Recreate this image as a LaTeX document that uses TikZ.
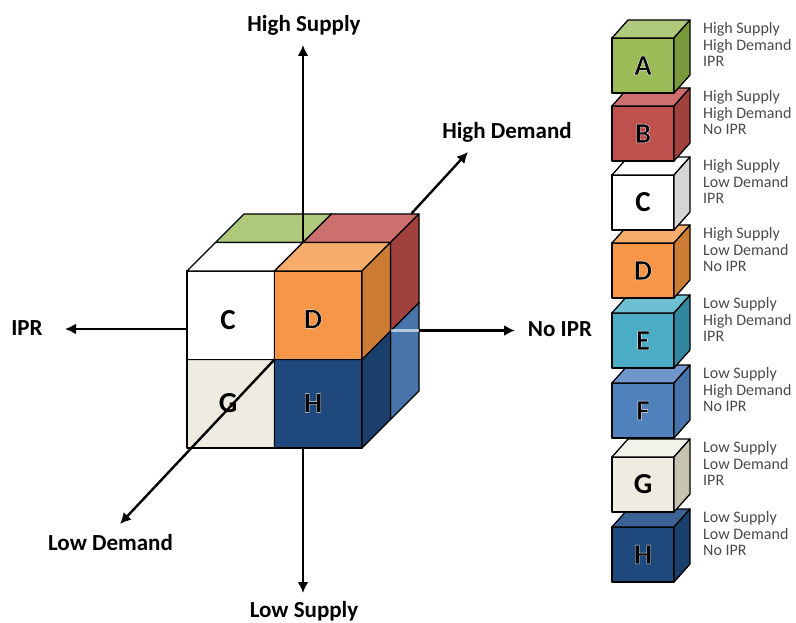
\documentclass[tikz,border=0pt]{standalone}
\usepackage{fontspec}
\setmainfont{Carlito}
\usetikzlibrary{arrows.meta}

\definecolor{greenFront}{HTML}{9BBB59}
\definecolor{greenTop}{HTML}{AEC87C}
\definecolor{greenSide}{HTML}{789A3D}
\definecolor{redFront}{HTML}{C0504D}
\definecolor{redTop}{HTML}{CD6F6D}
\definecolor{redSide}{HTML}{A0413E}
\definecolor{whiteSide}{HTML}{D6D6D6}
\definecolor{orangeFront}{HTML}{F79646}
\definecolor{orangeTop}{HTML}{F9AD6D}
\definecolor{orangeSide}{HTML}{CC7B35}
\definecolor{tealFront}{HTML}{4BACC6}
\definecolor{tealTop}{HTML}{6FBFD3}
\definecolor{tealSide}{HTML}{32869D}
\definecolor{blueFront}{HTML}{4F81BD}
\definecolor{blueTop}{HTML}{7196CB}
\definecolor{blueSide}{HTML}{4774AA}
\definecolor{sandFront}{HTML}{EEECE1}
\definecolor{sandTop}{HTML}{F3F2EA}
\definecolor{sandSide}{HTML}{C6C3B1}
\definecolor{navyFront}{HTML}{1F497D}
\definecolor{navyTop}{HTML}{3D6396}
\definecolor{navySide}{HTML}{1B3F6C}
\definecolor{legendGray}{HTML}{4A4A4A}

% one small cube: front top-left corner, width, height, depth shift, three fills
\newcommand{\cubebox}[9]{%
  \begin{scope}[shift={(#1,#2)}]
    \filldraw[fill=#7, cube edge] (0,0) rectangle (#3,#4);
    \filldraw[fill=#8, cube edge] (0,0) -- (#5,#6) -- ({#3+#5},#6) -- (#3,0) -- cycle;
    \filldraw[fill=#9, cube edge] (#3,0) -- ({#3+#5},#6) -- ({#3+#5},{#4+#6}) -- (#3,#4) -- cycle;
  \end{scope}}
% black letter with a thin white rim
\newcommand{\glow}[1]{\special{pdf:literal direct 2 Tr 0.35 w 1 j 1 G}#1\special{pdf:literal direct 0 Tr 0 G}}

\begin{document}
\begin{tikzpicture}[x=1pt, y=-1pt,
    cube edge/.style={draw=black, line width=1.3pt, line join=round},
    axis/.style={line width=2.4pt, -{Latex[length=11pt,width=11pt]}},
    axis label/.style={font=\fontsize{23}{27}\selectfont\bfseries, anchor=base, inner sep=0pt},
    cell letter/.style={font=\fontsize{29}{32}\selectfont\bfseries, inner sep=0pt},
    legend text/.style={font=\fontsize{16}{16.7}\selectfont, text=legendGray, align=left, anchor=north west, inner sep=0pt}]
	\useasboundingbox (0,0) rectangle (796,623);

	%Main cube, back layer
	\cubebox{215.5}{331}{87.5}{88.5}{28.5}{-28.5}{tealFront}{tealTop}{tealSide}
	\cubebox{303}{331}{87.5}{88.5}{28.5}{-28.5}{blueFront}{blueTop}{blueSide}
	\cubebox{215.5}{242.5}{87.5}{88.5}{28.5}{-28.5}{greenFront}{greenTop}{greenSide}
	\cubebox{303}{242.5}{87.5}{88.5}{28.5}{-28.5}{redFront}{redTop}{redSide}
	%Main cube, front layer
	\cubebox{187}{359.5}{87.5}{88.5}{28.5}{-28.5}{sandFront}{sandTop}{sandSide}
	\cubebox{274.5}{359.5}{87.5}{88.5}{28.5}{-28.5}{navyFront}{navyTop}{navySide}
	\cubebox{187}{271}{87.5}{88.5}{28.5}{-28.5}{white}{white}{whiteSide}
	\cubebox{274.5}{271}{87.5}{88.5}{28.5}{-28.5}{orangeFront}{orangeTop}{orangeSide}

	%Letters
	\node[cell letter] (cellC) at (228,320) {C};
	\node[cell letter] (cellD) at (313,319) {\glow{D}};
	\node[cell letter] (cellG) at (228,403) {G};
	\node[cell letter] (cellH) at (313,403) {\glow{H}};

	%Axes
	\coordinate (supplyIn)  at (303,242.5);
	\coordinate (supplyTip) at (303,45);
	\coordinate (lowIn)     at (303,448);
	\coordinate (lowTip)    at (303,593);
	\coordinate (iprIn)     at (187,329);
	\coordinate (iprTip)    at (65,329);
	\coordinate (noIn)      at (390.5,330.5);
	\coordinate (noOut)     at (419,330.5);
	\coordinate (noTip)     at (515,330.5);
	\coordinate (centre)    at (274.5,359.5);
	\coordinate (ldTip)     at (120,524);
	\coordinate (hdOut)     at (411.5,213.5);
	\coordinate (hdTip)     at (468,152);

	\draw[axis] (supplyIn) -- (supplyTip);
	\draw[axis] (lowIn) -- (lowTip);
	\draw[axis] (iprIn) -- (iprTip);
	\draw[line width=2.4pt, white, opacity=0.6] (noIn) -- (noOut);
	\draw[axis] (noOut) -- (noTip);
	\draw[axis] (centre) -- (ldTip);
	\draw[axis] (hdOut) -- (hdTip);

	%Axis labels
	\node[axis label] (highSupply) at (304,31.5) {High Supply};
	\node[axis label] (highDemand) at (507,139) {High Demand};
	\node[axis label] (ipr)        at (27,335)  {IPR};
	\node[axis label] (noIpr)      at (560,336.5) {No IPR};
	\node[axis label] (lowDemand)  at (110.5,550.5) {Low Demand};
	\node[axis label] (lowSupply)  at (304,617) {Low Supply};

	%Legend, drawn from the bottom up
	\cubebox{612}{527}{62}{55}{16}{-18}{navyFront}{navyTop}{navySide}
	\cubebox{612}{457}{62}{55}{16}{-18}{sandFront}{sandTop}{sandSide}
	\cubebox{612}{383}{62}{55}{16}{-18}{blueFront}{blueTop}{blueSide}
	\cubebox{612}{313}{62}{55}{16}{-18}{tealFront}{tealTop}{tealSide}
	\cubebox{612}{243}{62}{55}{16}{-18}{orangeFront}{orangeTop}{orangeSide}
	\cubebox{612}{175}{62}{55}{16}{-18}{white}{white}{whiteSide}
	\cubebox{612}{106}{62}{55}{16}{-18}{redFront}{redTop}{redSide}
	\cubebox{612}{38}{62}{55}{16}{-18}{greenFront}{greenTop}{greenSide}

	\node[cell letter] (legA) at (643,65.5)  {\glow{A}};
	\node[cell letter] (legB) at (643,133.5) {\glow{B}};
	\node[cell letter] (legC) at (643,202.5) {C};
	\node[cell letter] (legD) at (643,270.5) {\glow{D}};
	\node[cell letter] (legE) at (643,340.5) {\glow{E}};
	\node[cell letter] (legF) at (643,410.5) {\glow{F}};
	\node[cell letter] (legG) at (643,484.5) {G};
	\node[cell letter] (legH) at (643,554.5) {\glow{H}};

	\node[legend text] (txtA) at (703,22)  {High Supply\\High Demand\\IPR};
	\node[legend text] (txtB) at (703,90)  {High Supply\\High Demand\\No IPR};
	\node[legend text] (txtC) at (703,159) {High Supply\\Low Demand\\IPR};
	\node[legend text] (txtD) at (703,227) {High Supply\\Low Demand\\No IPR};
	\node[legend text] (txtE) at (703,297) {Low Supply\\High Demand\\IPR};
	\node[legend text] (txtF) at (703,367) {Low Supply\\High Demand\\No IPR};
	\node[legend text] (txtG) at (703,441) {Low Supply\\Low Demand\\IPR};
	\node[legend text] (txtH) at (703,511) {Low Supply\\Low Demand\\No IPR};
\end{tikzpicture}
\end{document}
